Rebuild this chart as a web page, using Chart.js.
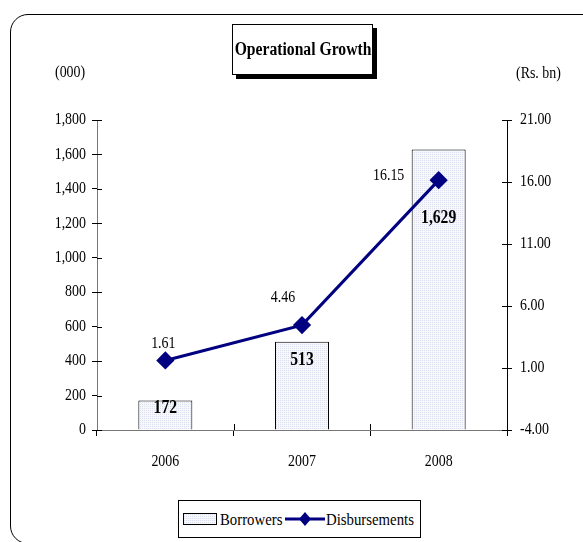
<!DOCTYPE html>
<html><head><meta charset="utf-8">
<script src="https://cdn.jsdelivr.net/npm/chart.js@4/dist/chart.umd.min.js"></script>
<style>
body{margin:0;background:#fff;}
#wrap{position:relative;width:583px;height:542px;overflow:hidden;font-family:"Liberation Serif","Times New Roman",serif;color:#000;}
#frame{position:absolute;left:10px;top:14px;width:600px;height:530px;border:1.5px solid #000;border-radius:18px;box-sizing:border-box;}
#c{position:absolute;left:0;top:0;}
#titlebox{position:absolute;left:232px;top:24px;width:141px;height:51px;box-sizing:border-box;border:1px solid #000;box-shadow:4px 4px 0 #000;background:#fff;}
.t{position:absolute;white-space:nowrap;line-height:1;transform:scaleX(0.87);}
#legend{position:absolute;left:178px;top:500px;width:243px;height:38px;box-sizing:border-box;border:1px solid #000;background:#fff;}
#sw{position:absolute;left:4px;top:12px;width:34px;height:12px;box-sizing:border-box;border:1px solid #000;}
</style></head>
<body><div id="wrap">
<div id="frame"></div>
<canvas id="c" width="583" height="542"></canvas>
<div id="titlebox"><span class="t" id="title" style="font-weight:bold;font-size:18px;left:50%;top:15px;transform:translateX(-50%) scaleX(0.87);">Operational Growth</span></div>
<span class="t" id="uL" style="left:55px;top:64px;font-size:16px;transform-origin:left;">(000)</span>
<span class="t" id="uR" style="left:516px;top:65px;font-size:16px;transform-origin:left;">(Rs. bn)</span>
<div id="legend">
  <div id="sw"></div>
  <span class="t" id="lb1" style="left:41px;top:10px;font-size:17px;transform-origin:left;">Borrowers</span>
  <svg style="position:absolute;left:106px;top:10px" width="40" height="16"><line x1="0" y1="8" x2="40" y2="8" stroke="#000080" stroke-width="3"/><polygon points="20,1 26,8 20,15 14,8" fill="#000080"/></svg>
  <span class="t" id="lb2" style="left:147px;top:10px;font-size:17px;transform-origin:left;">Disbursements</span>
</div>
</div>
<script>
const categories = ['2006', '2007', '2008'];
const borrowers = [172, 513, 1629];
const disbursements = [1.61, 4.46, 16.15];
const seriesNames = ['Borrowers', 'Disbursements'];
const leftRange = [0, 1800, 200];
const rightRange = [-4, 21, 5];

// styling for label placement (not data)
const barLabelOffsets = [8, 19, 69];
const lineLabelOffsets = [[-2, -17], [-19, -27], [-50, -4]];
const SX = 0.87;

document.getElementById('lb1').textContent = seriesNames[0];
document.getElementById('lb2').textContent = seriesNames[1];

// bar fill pattern (fine light dots)
const pc = document.createElement('canvas'); pc.width = 2; pc.height = 2;
const px = pc.getContext('2d');
px.fillStyle = '#f7f8fc'; px.fillRect(0, 0, 2, 2);
px.fillStyle = '#dcdfee'; px.fillRect(0, 0, 1, 1);
const ctx0 = document.getElementById('c').getContext('2d');
const pattern = ctx0.createPattern(pc, 'repeat');
document.getElementById('sw').style.background = 'url(' + pc.toDataURL() + ')';

const FONT = '"Liberation Serif", "Times New Roman", serif';
const fmt = v => Number(v).toLocaleString('en-US');

function txt(c, s, x, y, align, font) {
  c.save();
  c.translate(x, y);
  c.scale(SX, 1);
  c.font = font;
  c.textAlign = align;
  c.textBaseline = 'middle';
  c.fillStyle = '#000';
  c.fillText(s, 0, 0);
  c.restore();
}

const extras = {
  id: 'extras',
  afterDatasetsDraw(chart) {
    const c = chart.ctx, a = chart.chartArea;
    const y = chart.scales.y, y1 = chart.scales.y1, x = chart.scales.x;
    c.save();
    // inside tick marks (cross ticks)
    c.lineWidth = 1;
    c.strokeStyle = '#000';
    y.ticks.forEach((t, i) => { const yy = Math.round(y.getPixelForTick(i)) + 0.5; c.beginPath(); c.moveTo(a.left, yy); c.lineTo(a.left + 5, yy); c.stroke(); });
    y1.ticks.forEach((t, i) => { const yy = Math.round(y1.getPixelForTick(i)) + 0.5; c.beginPath(); c.moveTo(a.right - 5, yy); c.lineTo(a.right, yy); c.stroke(); });
    for (let i = 1; i < categories.length; i++) {
      const xx = Math.round((x.getPixelForTick(i - 1) + x.getPixelForTick(i)) / 2) + 0.5;
      c.beginPath(); c.moveTo(xx, a.bottom - 6); c.lineTo(xx, a.bottom); c.stroke();
    }
    c.restore();
    // axis tick labels (condensed serif)
    const tf = '16px ' + FONT;
    y.ticks.forEach((t, i) => txt(c, fmt(t.value), a.left - 11, y.getPixelForTick(i), 'right', tf));
    y1.ticks.forEach((t, i) => txt(c, Number(t.value).toFixed(2), a.right + 13, y1.getPixelForTick(i), 'left', tf));
    categories.forEach((lab, i) => txt(c, lab, x.getPixelForTick(i), a.bottom + 32, 'center', tf));
    // bar labels
    const bm = chart.getDatasetMeta(0);
    bm.data.forEach((el, i) => txt(c, fmt(borrowers[i]), el.x, el.y + barLabelOffsets[i], 'center', 'bold 18px ' + FONT));
    // line labels
    const lm = chart.getDatasetMeta(1);
    lm.data.forEach((el, i) => txt(c, disbursements[i].toFixed(2), el.x + lineLabelOffsets[i][0], el.y + lineLabelOffsets[i][1], 'center', tf));
  }
};

const hidden = 'rgba(0,0,0,0)';
new Chart(document.getElementById('c'), {
  type: 'bar',
  data: {
    labels: categories,
    datasets: [
      { type: 'bar', label: seriesNames[0], data: borrowers, yAxisID: 'y', backgroundColor: pattern, borderColor: '#000', borderWidth: 1, barPercentage: 0.395, categoryPercentage: 1, order: 2 },
      { type: 'line', label: seriesNames[1], data: disbursements, yAxisID: 'y1', borderColor: '#000080', borderWidth: 3, pointStyle: 'rectRot', pointRadius: 7, pointHoverRadius: 7, pointBackgroundColor: '#000080', pointBorderColor: '#000080', tension: 0, order: 1 }
    ]
  },
  options: {
    responsive: false, animation: false, devicePixelRatio: 1,
    layout: { padding: { top: 120, left: 0, right: 0, bottom: 0 } },
    plugins: { legend: { display: false }, title: { display: false }, tooltip: { enabled: false } },
    scales: {
      x: {
        grid: { display: true, drawOnChartArea: false, offset: true, tickLength: 6, color: '#000' },
        border: { display: true, color: '#777', width: 1 },
        ticks: { font: { family: FONT, size: 14 }, color: hidden, padding: 18 },
        afterFit(s) { s.height = 112; }
      },
      y: {
        position: 'left', min: leftRange[0], max: leftRange[1],
        grid: { display: true, drawOnChartArea: false, tickLength: 5, color: '#000' },
        border: { display: true, color: '#777', width: 1 },
        ticks: { stepSize: leftRange[2], font: { family: FONT, size: 14 }, color: hidden, padding: 6, callback: v => fmt(v) },
        afterFit(s) { s.width = 97; }
      },
      y1: {
        position: 'right', min: rightRange[0], max: rightRange[1],
        grid: { display: true, drawOnChartArea: false, tickLength: 5, color: '#000' },
        border: { display: true, color: '#000', width: 1 },
        ticks: { stepSize: rightRange[2], font: { family: FONT, size: 14 }, color: hidden, padding: 8, callback: v => Number(v).toFixed(2) },
        afterFit(s) { s.width = 76; }
      }
    }
  },
  plugins: [extras]
});
</script>
</body></html>
